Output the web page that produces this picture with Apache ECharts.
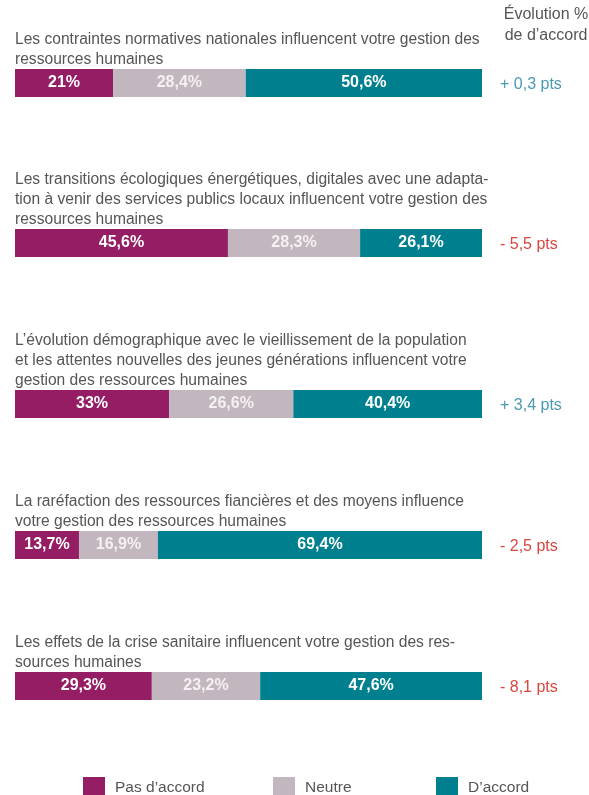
<!DOCTYPE html>
<html>
<head>
<meta charset="utf-8">
<script src="https://cdn.jsdelivr.net/npm/echarts@6/dist/echarts.min.js"></script>
<style>
  html, body { margin: 0; padding: 0; background: #fff; }
  #chart { width: 589px; height: 795px; }
</style>
</head>
<body>
<div id="chart"></div>
<script>
// questions (line breaks as in the original)
var questions = [
    'Les contraintes normatives nationales influencent votre gestion des\nressources humaines',
    'Les transitions écologiques énergétiques, digitales avec une adapta-\ntion à venir des services publics locaux influencent votre gestion des\nressources humaines',
    'L’évolution démographique avec le vieillissement de la population\net les attentes nouvelles des jeunes générations influencent votre\ngestion des ressources humaines',
    'La raréfaction des ressources fiancières et des moyens influence\nvotre gestion des ressources humaines',
    'Les effets de la crise sanitaire influencent votre gestion des res-\nsources humaines'
];
var seriesNames = ['Pas d’accord', 'Neutre', 'D’accord'];
var pasDaccord = [21, 45.6, 33, 13.7, 29.3];
var neutre = [28.4, 28.3, 26.6, 16.9, 23.2];
var daccord = [50.6, 26.1, 40.4, 69.4, 47.6];
var evolution = [0.3, -5.5, 3.4, -2.5, -8.1];

var colors = ['#951d64', '#c2b7bf', '#00808f'];
var labelColors = ['#ffffff', '#f4f0f3', '#ffffff'];

// position des barres (px)
var barTops = [69, 229, 390, 531, 672];
var barH = 28;
var lineH = 20;
var txtColor = '#555';

function fr(v) {
    return String(v).replace('.', ',');
}

var chart = echarts.init(document.getElementById('chart'));

var grids = [], xAxes = [], yAxes = [], series = [], titles = [];
var values = [pasDaccord, neutre, daccord];

titles.push({
    text: 'Évolution %\nde d’accord',
    left: 546, top: 4,
    padding: 0,
    textAlign: 'center',
    textStyle: { fontFamily: 'Liberation Sans', fontSize: 16, fontWeight: 'normal', color: txtColor, lineHeight: 21 }
});

for (var i = 0; i < questions.length; i++) {
    var nLines = questions[i].split('\n').length;
    grids.push({ left: 15, width: 467, top: barTops[i], height: barH });
    xAxes.push({ gridIndex: i, type: 'value', min: 0, max: 100, show: false });
    yAxes.push({ gridIndex: i, type: 'category', data: [questions[i]], show: false });

    titles.push({
        text: questions[i],
        left: 15,
        padding: 0,
        top: barTops[i] - 9 - (nLines - 0.5) * lineH,
        textStyle: { fontFamily: 'Liberation Sans', fontSize: 15.6, fontWeight: 'normal', color: txtColor, lineHeight: lineH }
    });

    var ev = evolution[i];
    titles.push({
        text: (ev >= 0 ? '+ ' : '- ') + fr(Math.abs(ev)) + ' pts',
        left: 500,
        padding: 0,
        top: barTops[i] + barH / 2 - 8,
        textStyle: { fontFamily: 'Liberation Sans', fontSize: 16, fontWeight: 'normal', color: ev >= 0 ? '#4a9ab3' : '#d8473f', lineHeight: 20 }
    });

    for (var s = 0; s < 3; s++) {
        series.push({
            name: seriesNames[s],
            type: 'bar',
            stack: 'q' + i,
            xAxisIndex: i,
            yAxisIndex: i,
            barWidth: barH,
            data: [values[s][i]],
            itemStyle: { color: colors[s] },
            label: {
                show: true,
                position: 'inside',
                formatter: function (p) { return fr(p.value) + '%'; },
                color: labelColors[s],
                fontFamily: 'Liberation Sans',
                fontWeight: 'bold',
                fontSize: 16
            },
            silent: true,
            animation: false
        });
    }
}

var legendLeft = [83, 273, 436];
var legends = seriesNames.map(function (n, k) {
    return {
        data: [n],
        left: legendLeft[k],
        top: 777,
        padding: 0,
        icon: 'rect',
        itemWidth: 22,
        itemHeight: 22,
        itemGap: 10,
        textStyle: { fontFamily: 'Liberation Sans', fontSize: 15.5, color: txtColor, padding: [0, 0, 0, 5] }
    };
});

chart.setOption({
    animation: false,
    title: titles,
    legend: legends,
    grid: grids,
    xAxis: xAxes,
    yAxis: yAxes,
    series: series
});
</script>
</body>
</html>
